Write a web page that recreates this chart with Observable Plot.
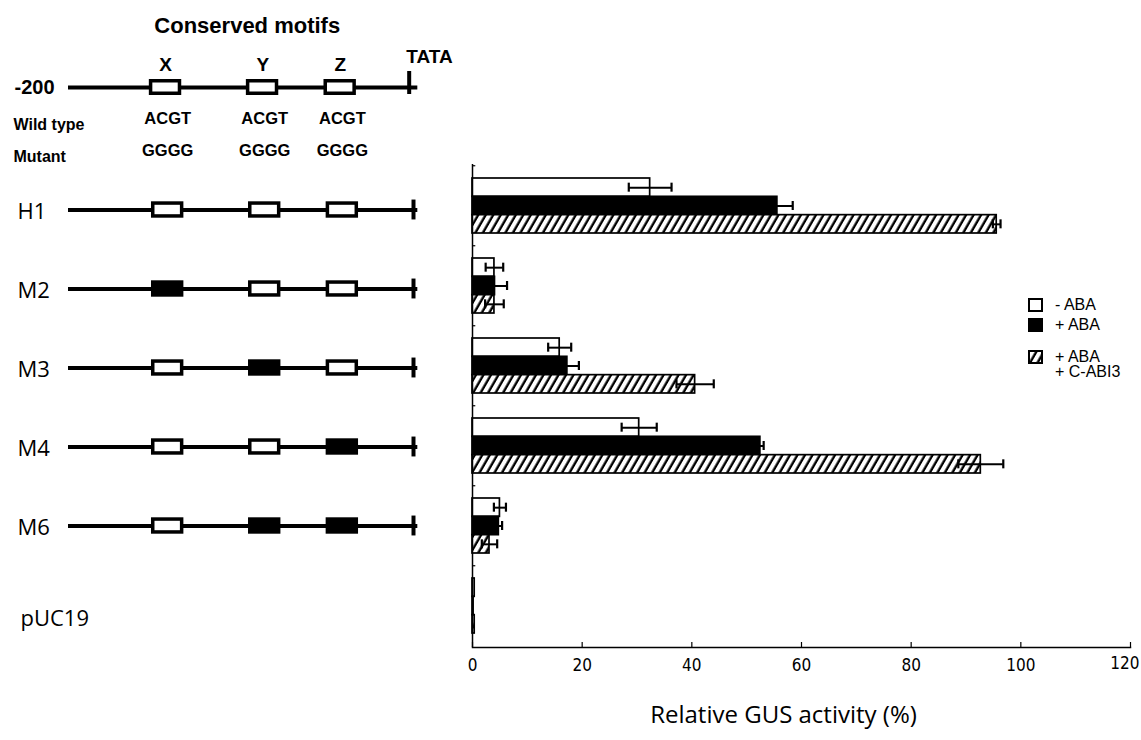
<!DOCTYPE html>
<html>
<head>
<meta charset="utf-8">
<script src="https://cdn.jsdelivr.net/npm/d3@7"></script>
<script src="https://cdn.jsdelivr.net/npm/@observablehq/plot@0.6"></script>
<style>
  body { margin: 0; background: #fff; }
  #chart { position: relative; width: 1141px; height: 740px; overflow: hidden; background: #fff; }
  #chart > svg, #chart > div { position: absolute; left: 0; top: 0; }
  #legend { font-family: "Liberation Sans", Arial, sans-serif; font-size: 16px; color: #000; }
  #legend .item { display: flex; align-items: flex-start; }
  #legend .lab { margin-left: 12px; line-height: 15px; margin-top: -1px; }
</style>
</head>
<body>
<svg width="0" height="0" style="position:absolute">
  <defs>
    <pattern id="hatch" patternUnits="userSpaceOnUse" width="6.5" height="12" patternTransform="rotate(30)">
      <rect width="6.5" height="12" fill="white"></rect>
      <line x1="1.6" y1="0" x2="1.6" y2="12" stroke="black" stroke-width="2.4"></line>
    </pattern>
  </defs>
</svg>
<div id="chart"></div>
<script>
// ---------------- data ----------------
const constructs = ["H1", "M2", "M3", "M4", "M6", "pUC19"];
const treatments = ["- ABA", "+ ABA", "+ ABA + C-ABI3"];
const minusABA        = [32.4, 4.0, 15.9, 30.4, 5.0, 0.4];
const minusABAErr     = [3.9, 1.6, 2.1, 3.2, 1.1, 0];
const plusABA         = [55.6, 4.1, 17.3, 52.5, 4.8, 0.2];
const plusABAErr      = [2.8, 2.2, 2.1, 0.6, 0.6, 0];
const plusABAcABI3    = [95.6, 4.0, 40.6, 92.7, 3.1, 0.4];
const plusABAcABI3Err = [0.7, 1.7, 3.4, 4.1, 1.4, 0];
const xTicks = [0, 20, 40, 60, 80, 100, 120];

// promoter diagram
const motifs = ["X", "Y", "Z"];
const motifPositions = [-154, -109, -73];
const wildTypeSeq = ["ACGT", "ACGT", "ACGT"];
const mutantSeq = ["GGGG", "GGGG", "GGGG"];
const promoterStart = -200;
const tataPosition = -40;
// motifs mutated (filled boxes) per construct; null = no promoter (vector only)
const mutatedMotifs = [[], ["X"], ["Y"], ["Z"], ["Y", "Z"], null];

// ---------------- tables ----------------
const seriesValues = [minusABA, plusABA, plusABAcABI3];
const seriesErrors = [minusABAErr, plusABAErr, plusABAcABI3Err];
const rows = constructs.flatMap((c, i) => treatments.map((t, j) => ({
  construct: c, treatment: t, k: j, value: seriesValues[j][i], err: seriesErrors[j][i]
})));
const promoterRows = constructs.filter((c, i) => mutatedMotifs[i] !== null);
const boxes = constructs.flatMap((c, i) => mutatedMotifs[i] === null ? [] :
  motifs.map((m, j) => ({construct: c, motif: m, pos: motifPositions[j], mutated: mutatedMotifs[i].includes(m)})));
const refBoxes = motifs.map((m, j) => ({row: "line", motif: m, pos: motifPositions[j]}));
const seqRows = motifs.flatMap((m, j) => [
  {row: "wt", pos: motifPositions[j], seq: wildTypeSeq[j]},
  {row: "mut", pos: motifPositions[j], seq: mutantSeq[j]}
]);

// ---------------- styles ----------------
const SANS = "'Liberation Sans', Arial, sans-serif";
const HUMAN = "'Open Sans', 'DejaVu Sans', sans-serif";
const NARROW = "'Liberation Sans Narrow', 'DejaVu Sans Condensed', sans-serif";
const boxHalf = 6.7;   // half box width in promoter units (drawing size)
const chart = document.getElementById("chart");

// ---------------- bar chart ----------------
const W = 1141, H = 740, ML = 472, MR = 11, MT = 164, MB = 93;
const frameH = H - MT - MB;
const step = frameH / constructs.length;
const pInner = 0.317, pOuter = pInner / 2;
const bw = step * (1 - pInner);
const sub = bw / 3;
const fills = ["white", "black", "url(#hatch)"];

const barMarks = [0, 1, 2].flatMap(j => {
  const d = rows.filter(r => r.k === j);
  const e = d.filter(r => r.err > 0);
  const capInset = (sub - 9) / 2;
  return [
    Plot.barX(d, {x: "value", y: "construct", fill: fills[j], stroke: "black", strokeWidth: 1.7,
      insetTop: j * sub, insetBottom: (2 - j) * sub}),
    Plot.ruleY(e, {y: "construct", x1: r => r.value - r.err, x2: r => r.value + r.err,
      dy: (j - 1) * sub, stroke: "black", strokeWidth: 2}),
    Plot.tickX(e, {x: r => r.value - r.err, y: "construct", stroke: "black", strokeWidth: 2.2,
      insetTop: j * sub + capInset, insetBottom: (2 - j) * sub + capInset}),
    Plot.tickX(e, {x: r => r.value + r.err, y: "construct", stroke: "black", strokeWidth: 2.2,
      insetTop: j * sub + capInset, insetBottom: (2 - j) * sub + capInset})
  ];
});

const bars = Plot.plot({
  width: W, height: H, marginLeft: ML, marginRight: MR, marginTop: MT, marginBottom: MB,
  style: {background: "transparent"},
  x: {domain: [0, 120], axis: null},
  y: {domain: constructs, paddingInner: pInner, paddingOuter: pOuter, axis: null},
  marks: [
    ...barMarks,
    Plot.ruleX([0], {stroke: "black", strokeWidth: 1.5}),
    Plot.frame({anchor: "bottom", stroke: "black", strokeWidth: 1.5}),
    Plot.ruleX(xTicks, {x: d => d, stroke: "black", strokeWidth: 1.2, insetTop: frameH - 5}),
    Plot.ruleY(constructs, {y: d => d, x1: 0, x2: 0.6, dy: -step / 2, stroke: "black", strokeWidth: 1.2}),
    Plot.text(xTicks.slice(0, -1), {x: d => d, text: d => String(d), frameAnchor: "bottom", dy: 23,
      fontSize: 17, fontFamily: NARROW, fill: "black"}),
    Plot.text(xTicks.slice(-1), {x: d => d, text: d => String(d), frameAnchor: "bottom", dy: 21,
      textAnchor: "end", dx: 9, fontSize: 17, fontFamily: NARROW, fill: "black"}),
    Plot.text(["Relative GUS activity (%)"], {frameAnchor: "bottom", dy: 75, dx: -18,
      fontSize: 24, fontFamily: HUMAN, fill: "black"})
  ]
});
chart.appendChild(bars);

// ---------------- promoter diagram: construct rows ----------------
const DW = 460, DML = 68, DMR = 47;
const rowTop = 170, rowBottom = 644.6;
const rowStep = (rowBottom - rowTop) / constructs.length;
const diagram = Plot.plot({
  width: DW, height: H, marginLeft: DML, marginRight: DMR, marginTop: rowTop, marginBottom: H - rowBottom,
  style: {background: "transparent"},
  x: {domain: [promoterStart, tataPosition], axis: null},
  y: {domain: constructs, padding: 0, axis: null},
  marks: [
    Plot.ruleY(promoterRows, {y: d => d, x1: promoterStart, x2: tataPosition + 2, stroke: "black", strokeWidth: 4}),
    Plot.tickX(promoterRows, {x: tataPosition, y: d => d, stroke: "black", strokeWidth: 4,
      insetTop: (rowStep - 20) / 2, insetBottom: (rowStep - 20) / 2}),
    Plot.barX(boxes, {x1: d => d.pos - boxHalf, x2: d => d.pos + boxHalf, y: "construct",
      fill: d => d.mutated ? "black" : "white", stroke: "black", strokeWidth: 3.5,
      insetTop: (rowStep - 13) / 2, insetBottom: (rowStep - 13) / 2}),
    Plot.text(promoterRows, {y: d => d, text: d => d, frameAnchor: "left", textAnchor: "start",
      dx: -51, dy: 2, fontSize: 22, fontFamily: HUMAN, fill: "black"}),
    Plot.text(constructs.filter(c => !promoterRows.includes(c)), {y: d => d, text: d => d,
      frameAnchor: "left", textAnchor: "start", dx: -48, dy: 14, fontSize: 22, fontFamily: HUMAN, fill: "black"})
  ]
});
chart.appendChild(diagram);

// ---------------- promoter diagram: header ----------------
const HH = 170, HMT = 70, HMB = 2.5;
const hStep = (HH - HMT - HMB) / 3;
const header = Plot.plot({
  width: DW, height: HH, marginLeft: DML, marginRight: DMR, marginTop: HMT, marginBottom: HMB,
  style: {background: "transparent"},
  x: {domain: [promoterStart, tataPosition], axis: null},
  y: {domain: ["line", "wt", "mut"], padding: 0, axis: null},
  marks: [
    Plot.ruleY(["line"], {y: d => d, x1: promoterStart, x2: tataPosition + 2, stroke: "black", strokeWidth: 4}),
    Plot.tickX(["line"], {x: tataPosition - 2, y: d => d, stroke: "black", strokeWidth: 4, insetTop: 0, insetBottom: 9}),
    Plot.barX(refBoxes, {x1: d => d.pos - boxHalf - 1, x2: d => d.pos + boxHalf - 1, y: "row",
      fill: "white", stroke: "black", strokeWidth: 3.5, insetTop: (hStep - 13) / 2, insetBottom: (hStep - 13) / 2}),
    Plot.text(refBoxes, {x: d => d.pos, y: "row", text: "motif", dx: -2, dy: -23,
      fontSize: 19, fontWeight: "bold", fontFamily: SANS, fill: "black"}),
    Plot.text(["TATA"], {x: tataPosition, y: () => "line", text: d => d, dx: 16, dy: -31,
      fontSize: 19, fontWeight: "bold", fontFamily: SANS, fill: "black"}),
    Plot.text([promoterStart], {x: d => d, y: () => "line", text: d => String(d), textAnchor: "end", dx: -14,
      fontSize: 20, fontWeight: "bold", fontFamily: SANS, fill: "black"}),
    Plot.text(seqRows, {x: d => d.pos, y: "row", text: "seq", dy: -1,
      fontSize: 16.5, fontWeight: "bold", fontFamily: SANS, fill: "black"}),
    Plot.text([["wt", "Wild type"], ["mut", "Mutant"]], {y: d => d[0], text: d => d[1], frameAnchor: "left",
      textAnchor: "start", dx: -55, dy: 5, fontSize: 16, fontWeight: "bold", fontFamily: SANS, fill: "black"}),
    Plot.text(["Conserved motifs"], {x: () => d3.mean(motifPositions), text: d => d, frameAnchor: "top",
      dx: -11, dy: -53, fontSize: 22, fontWeight: "bold", fontFamily: SANS, fill: "black"})
  ]
});
chart.appendChild(header);

// ---------------- legend ----------------
const legend = document.createElement("div");
legend.id = "legend";
legend.style.left = "1028px";
legend.style.top = "298px";
const gaps = [6, 18, 0];
treatments.forEach((t, j) => {
  const item = document.createElement("div");
  item.className = "item";
  item.style.marginBottom = gaps[j] + "px";
  const sw = document.createElementNS("http://www.w3.org/2000/svg", "svg");
  sw.setAttribute("width", 15); sw.setAttribute("height", 14);
  sw.style.flex = "none";
  const r = document.createElementNS("http://www.w3.org/2000/svg", "rect");
  r.setAttribute("x", 1); r.setAttribute("y", 1); r.setAttribute("width", 13); r.setAttribute("height", 12);
  r.setAttribute("fill", fills[j]); r.setAttribute("stroke", "black"); r.setAttribute("stroke-width", 2);
  sw.appendChild(r);
  const lab = document.createElement("div");
  lab.className = "lab";
  lab.innerHTML = t.split(/ (?=\+)/).join("<br>");
  item.appendChild(sw); item.appendChild(lab);
  legend.appendChild(item);
});
chart.appendChild(legend);
</script>
</body>
</html>
